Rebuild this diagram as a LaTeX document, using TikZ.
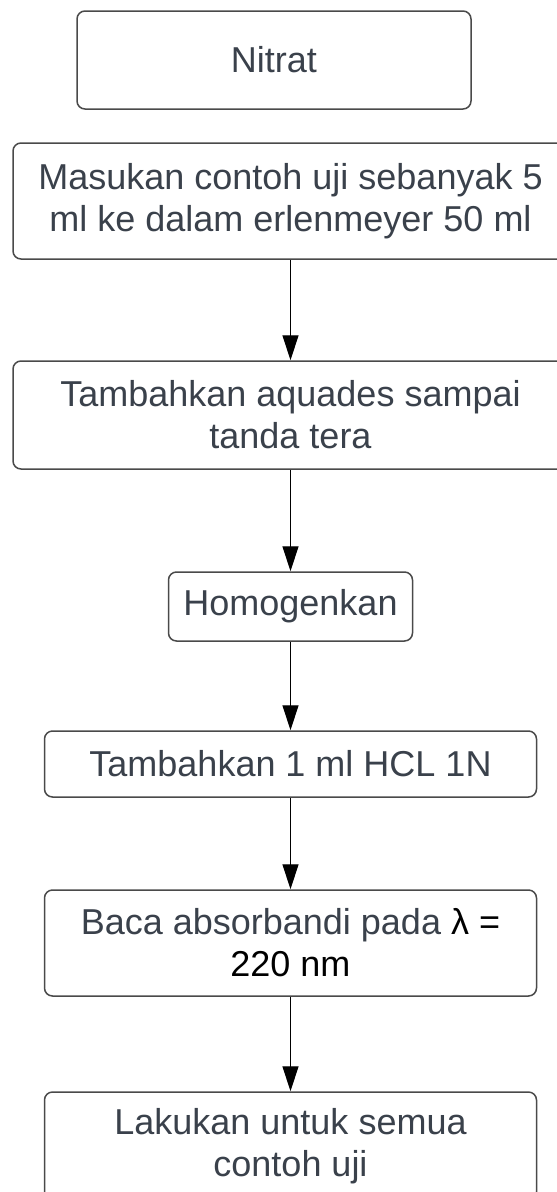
\documentclass[tikz,border=0pt]{standalone}
\usepackage{fontspec}
\setmainfont{Liberation Sans}
\usetikzlibrary{arrows.meta}
\definecolor{txt}{HTML}{3A414B}
\definecolor{edge}{HTML}{4A4A4A}
\begin{document}
\begin{tikzpicture}[x=1pt,y=-1pt,
  box/.style={draw=edge, line width=1.5pt, rounded corners=8pt, fill=white,
    align=center, text=txt, inner sep=0pt,
    font=\fontsize{36}{42}\selectfont},
  flow/.style={line width=1.3pt, -{Triangle[width=16pt,length=25pt]}}]
\useasboundingbox (0,0) rectangle (557,1192);
\clip (0,0) rectangle (557,1192);
\fill[white] (0,0) rectangle (557,1192);
\node[box, minimum width=394pt, minimum height=98pt] (nitrat) at (274,60) {Nitrat};
\node[box, minimum width=555pt, minimum height=116pt] (masukan) at (290.5,201)
  {Masukan contoh uji sebanyak 5\\ml ke dalam erlenmeyer 50 ml};
\node[box, minimum width=555pt, minimum height=108pt] (tambah) at (290.5,415)
  {Tambahkan aquades sampai\\tanda tera};
\node[box, minimum width=244pt, minimum height=69pt] (homo) at (290.5,606.5) {Homogenkan};
\node[box, minimum width=492pt, minimum height=66pt] (hcl) at (290.5,764) {Tambahkan 1 ml HCL 1N};
\node[box, minimum width=492pt, minimum height=106pt] (baca) at (290.5,943)
  {Baca absorbandi pada {\color{black}λ =}\\{\color{black}220 nm}};
\node[box, minimum width=492pt, minimum height=108pt] (lakukan) at (290.5,1146)
  {Lakukan untuk semua\\contoh uji};
\draw[flow] (masukan.south) -- (tambah.north);
\draw[flow] (tambah.south) -- (homo.north);
\draw[flow] (homo.south) -- (hcl.north);
\draw[flow] (hcl.south) -- (baca.north);
\draw[flow] (baca.south) -- (lakukan.north);
\end{tikzpicture}
\end{document}
